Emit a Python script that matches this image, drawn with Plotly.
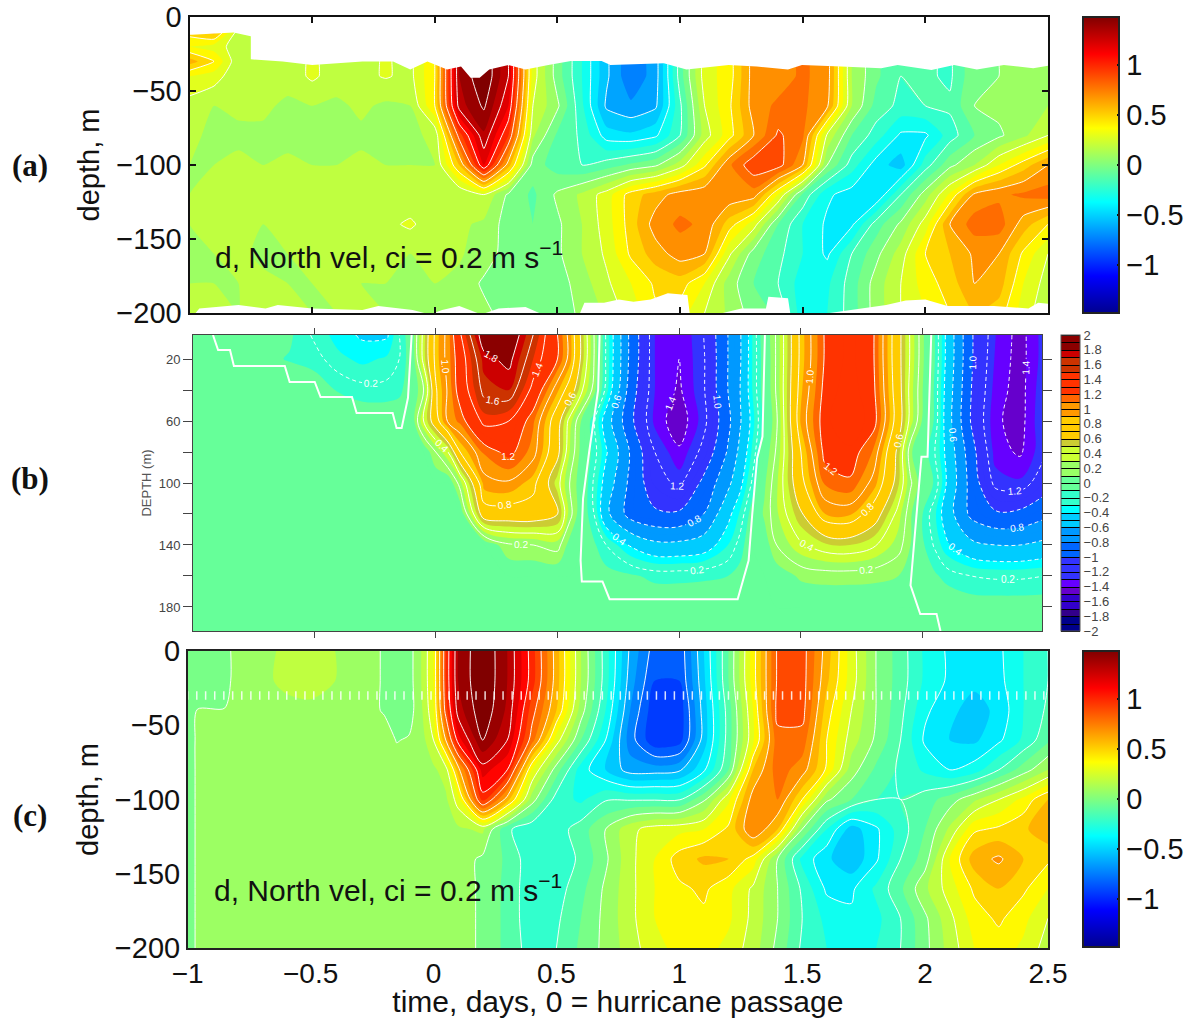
import plotly.graph_objects as go

W, H = 1189, 1018

# ---------- panel (a): observed north velocity ----------
a_time = [-1.0,-0.9,-0.8,-0.7,-0.6,-0.5,-0.4,-0.3,-0.2,-0.1,0.0,0.1,0.2,0.3,0.4,0.5,0.6,0.7,0.8,0.9,1.0,1.1,1.2,1.3,1.4,1.5,1.6,1.7,1.8,1.9,2.0,2.1,2.2,2.3,2.4,2.5]
a_depth = [-10,-20,-30,-40,-60,-80,-100,-120,-140,-160,-180,-200]
a_40 = [.3,.25,.12,.16,.14,.22,.15,.17,.21,.17,.4,1.3,1.5,1.2,.25,-.05,-.3,-.58,-.78,-.65,-.15,.25,.35,.65,.65,.72,.65,.1,-.08,-.2,-.18,-.22,-.02,0,.05,.1]
a_10 = [.45,.55,.15] + a_40[3:]
a_20 = [.3,.25,.15] + a_40[3:]
a_30 = [.55,.4,.12] + a_40[3:]
a_60 = [.15,.1,.12,.12,.08,.1,.08,.12,.08,.1,.4,1.25,1.42,1.1,.2,.02,-.28,-.62,-.68,-.62,-.22,.2,.38,.65,.72,.72,.62,.1,-.14,-.23,-.2,-.18,0,.03,0,.1]
a_80 = [.12,.08,.08,.08,.07,.08,.1,.08,.07,.08,.12,.85,1.28,.9,.12,-.12,-.22,-.45,-.48,-.42,-.2,.15,.36,.6,.82,.72,.18,-.1,-.25,-.42,-.42,-.25,-.1,-.02,.08,.2]
a_100 = [.1,.1,.12,.1,.12,.1,.1,.12,.1,.1,.1,.5,1.1,.55,-.05,-.15,-.2,-.15,-.08,-.02,.15,.38,.68,.88,.85,.6,0,-.25,-.45,-.55,-.25,-.03,.1,.3,.45,.6]
a_120 = [.1,.12,.13,.12,.15,.13,.15,.13,.12,.12,.12,.1,.2,-.02,-.12,.02,.12,.25,.45,.55,.65,.68,.68,.65,.3,-.12,-.38,-.45,-.5,-.2,.05,.32,.62,.68,.72,.75]
a_140 = [.1,.12,.14,.1,.12,.13,.13,.14,.17,.22,.13,.12,.08,-.05,-.1,-.02,.1,.25,.45,.65,.72,.68,.45,.25,-.1,-.3,-.42,-.42,-.15,.02,.25,.6,.75,.75,.55,.4]
a_160 = [.1,.1,.12,.08,.1,.12,.1,.12,.12,.1,.12,.11,.06,-.05,-.1,-.02,.1,.22,.42,.55,.65,.6,.22,-.05,-.17,-.3,-.42,-.2,-.03,.15,.4,.5,.62,.6,.38,.2]
a_180 = [.1,.1,.1,.12,.1,.1,.12,.1,.1,.08,.1,.08,-.02,-.05,-.1,-.05,.05,.18,.3,.42,.45,.3,.05,-.1,-.2,-.35,-.32,-.15,.05,.2,.35,.45,.6,.55,.3,.15]
a_200 = [.12,.12,.1,.12,.12,.1,.1,.12,.1,.08,.05,.05,.03,-.05,-.1,-.05,.02,.12,.25,.38,.35,.2,.08,-.05,-.12,-.35,-.3,-.15,.05,.2,.3,.4,.5,.45,.25,.12]
a_z = [a_10,a_20,a_30,a_40,a_60,a_80,a_100,a_120,a_140,a_160,a_180,a_200]
# upper and lower limits of the data coverage (white beyond)
a_top_time = [-.99,-.82,-.75,-.75,-.62,-.50,-.295,-.17,-.10,-.03,.05,.107,.146,.183,.222,.30,.37,.463,.555,.68,.716,.934,1.026,1.198,1.313,1.44,1.497,1.657,1.82,1.887,2.025,2.117,2.21,2.32,2.44,2.52]
a_top_depth = [-12,-10.4,-13,-28.6,-30,-32.4,-30,-30,-35.4,-30,-35.4,-33.5,-41,-41,-35.4,-32.4,-35.4,-32.4,-29.7,-29.7,-32.4,-31.3,-35.4,-32.4,-33.5,-35.4,-32.4,-33.5,-34.6,-32.4,-35.8,-32.4,-35.4,-32.4,-34.6,-32.4]
a_bot_time = [-.98,-.96,-.8,-.69,-.64,-.5,-.295,-.23,-.09,-.02,.03,.1,.19,.26,.37,.44,.59,.61,.69,.75,.81,.88,.95,1.03,1.04,1.15,1.25,1.35,1.36,1.44,1.45,1.61,1.84,1.92,2.0,2.09,2.28,2.42,2.46,2.52]
a_bot_depth = [-201,-196.9,-194.6,-196.9,-194.6,-196.9,-198,-195.3,-198,-201,-198,-195.3,-201,-196.9,-196,-201,-201,-193.1,-193.1,-190.8,-192.4,-190.8,-186.7,-187.8,-201,-201,-196.9,-196.9,-189,-190,-201,-200,-194.6,-191.5,-190.8,-195.3,-195.3,-196.9,-193.1,-194]

# ---------- panel (b): model north velocity ----------
b_time = [-1,-.8,-.6,-.5,-.4,-.3,-.2,-.15,-.1,-.05,
          0,.05,.1,.2,.3,.4,.5,.55,.6,.65,.7,.8,
          .9,1,1.1,1.2,1.25,1.3,1.35,1.4,
          1.5,1.6,1.7,1.8,1.9,1.95,2,2.05,2.1,2.2,2.3,2.4,2.5]
b_depth = [4.5,20,40,60,80,100,120,140,160,180,195.5]
b_z = [
 [0,0,-.08,-.22,-.35,-.42,-.42,-.2,0,.45, .85,1.05,1.38,1.92,1.95,1.6,1.2,.95,.55,.2,-.22,-.85, -1.3,-1.4,-1.2,-.8,-.62,-.3,0,.22, .85,1.22,1.33,1.2,.66,.38,.12,-.1,-.45,-.98,-1.3,-1.45,-1.25],
 [0,-.03,-.11,-.15,-.27,-.33,-.28,-.2,-.02,.45, .85,1.05,1.3,1.75,1.85,1.5,1.2,.95,.55,.2,-.22,-.85, -1.3,-1.4,-1.22,-.8,-.62,-.3,-.02,.22, .85,1.22,1.33,1.2,.66,.38,.12,-.1,-.45,-.98,-1.32,-1.45,-1.25],
 [0,0,0,-.02,-.11,-.16,-.16,-.13,-.02,.2, .78,1.02,1.28,1.65,1.7,1.35,.92,.72,.42,.15,-.25,-.9, -1.3,-1.42,-1.22,-.8,-.6,-.3,-.02,.22, .88,1.25,1.35,1.22,.68,.35,.1,-.12,-.48,-1.0,-1.35,-1.45,-1.22],
 [0,0,0,0,0,0,0,-.01,0,.4, .72,1.02,1.13,1.45,1.4,1.12,.68,.35,.08,-.18,-.5,-.95, -1.33,-1.48,-1.25,-.85,-.62,-.35,-.05,.18, .92,1.28,1.38,1.25,.7,.35,.08,-.12,-.5,-1.02,-1.38,-1.45,-1.2],
 [0,0,0,0,0,0,0,0,0,0, .2,.4,.8,1.12,1.25,1.05,.65,.3,.05,-.15,-.38,-.82, -1.2,-1.38,-1.15,-.78,-.55,-.28,.02,.22, .8,1.25,1.28,1.08,.55,.12,-.02,-.2,-.45,-.92,-1.35,-1.42,-1.22],
 [0,0,0,0,0,0,0,0,0,0, 0,0,.25,.95,.98,.85,.45,.2,.02,-.22,-.48,-.85, -1.12,-1.24,-.95,-.65,-.45,-.18,.08,.28, .75,1.12,1.18,.95,.52,.22,.02,-.12,-.42,-.88,-1.25,-1.28,-1.1],
 [0,0,0,0,0,0,0,0,0,0, 0,0,0,.72,.72,.72,.62,.25,0,-.2,-.55,-.88, -.97,-.97,-.8,-.45,-.28,-.03,.12,.28, .58,.9,.92,.7,.35,.12,-.1,-.28,-.5,-.85,-.97,-.95,-.85],
 [0,0,0,0,0,0,0,0,0,0, 0,0,0,0,.18,.2,.25,.05,0,-.08,-.2,-.42, -.55,-.55,-.5,-.3,-.15,0,.03,.2, .38,.48,.5,.42,.25,.1,-.08,-.22,-.38,-.55,-.6,-.6,-.55],
 [0,0,0,0,0,0,0,0,0,0, 0,0,0,0,0,0,0,0,0,0,-.05,-.08, -.13,-.13,-.12,-.1,-.06,0,0,.03, .12,.14,.14,.13,.1,.02,-.02,-.08,-.14,-.2,-.22,-.22,-.2],
 [0,0,0,0,0,0,0,0,0,0, 0,0,0,0,0,0,0,0,0,0,0,0, 0,0,0,0,0,0,0,0, 0,0,0,0,0,0,0,0,0,-.03,-.03,-.03,-.03],
 [0,0,0,0,0,0,0,0,0,0, 0,0,0,0,0,0,0,0,0,0,0,0, 0,0,0,0,0,0,0,0, 0,0,0,0,0,0,0,0,0,0,0,0,0],
]
b_zero1_time = [-.915,-.894,-.845,-.829,-.62,-.60,-.497,-.473,-.344,-.325,-.177,-.161,-.14,-.114,-.099]
b_zero1_depth = [4.5,14.2,14.2,24.5,24.5,34.8,34.8,44.5,44.5,54.8,54.8,64.5,64.5,45,4.5]
b_zero2_time = [.673,.667,.63,.605,.595,.60,.685,.714,1.24,1.285,1.30,1.32,1.342,1.352]
b_zero2_depth = [4.5,40,80,110,150,163.6,163.6,175,175,150,120,84,70,4.5]
b_zero3_time = [2.035,2.02,1.995,1.97,1.95,1.99,2.057,2.073]
b_zero3_depth = [4.5,83,83,131,166,184.5,184.5,195.5]
b_levels_colors = ["#00008b"]*2 + ["#33008b"] + ["#3300cc"]*2 + ["#6600cc"] + ["#6600ff"] + ["#3333ff"]*3 + \
                  ["#0066ff"]*2 + ["#0099ff"]*2 + ["#00ccff"]*2 + ["#00ffff"] + ["#33ffcc"]*2 + ["#66ff99"]*2 + \
                  ["#99ff66"]*2 + ["#ccff33"]*2 + ["#cccc33"] + ["#ffcc00"]*3 + ["#ff9900"]*2 + ["#ff6600"] + \
                  ["#ff3300"]*3 + ["#cc3300"]*2 + ["#cc0000"] + ["#8b0000"]*2

# ---------- panel (c): model north velocity, jet colours ----------
c_time = [-1,-.98,-.96,-.85,-.8,-.7,-.6,-.5,-.4,-.3,-.2,-.15,-.1,-.05,0,.05,.1,
          .2,.3,.4,.5,.6,.7,.8,.9,1,1.1,1.2,1.3,1.4,1.5,1.6,1.7,1.8,1.9,2,2.1,2.2,2.3,2.4,2.5]
c_depth = [0,-20,-40,-60,-80,-100,-120,-140,-160,-180,-200]
c_z = [
 [-.05,-.05,-.05,-.05,.05,.07,.12,.15,.1,.05,-.01,-.07,-.05,.1,.3,.9,1.3, 1.5,1.3,.95,.55,.1,-.25,-.62,-.85,-.88,-.5,-.1,.35,.82,.85,.55,.25,0,-.15,-.32,-.42,-.45,-.42,-.3,-.2],
 [-.05,-.05,-.05,-.05,.05,.07,.13,.15,.1,.05,-.01,-.07,-.05,.1,.3,.9,1.3, 1.5,1.3,.95,.55,.1,-.25,-.65,-.9,-.9,-.52,-.1,.35,.82,.85,.52,.25,0,-.15,-.32,-.42,-.47,-.43,-.3,-.2],
 [-.05,-.05,.004,.004,.05,.05,.06,.07,.06,.05,-.01,-.07,-.05,.08,.28,.85,1.25, 1.48,1.28,.85,.5,.05,-.3,-.7,-.97,-.97,-.55,-.15,.3,.84,.84,.45,.2,0,-.17,-.38,-.47,-.55,-.47,-.3,-.18],
 [-.05,-.05,.05,.05,.05,.05,.05,.05,.05,.05,.05,-.005,.01,.05,.2,.6,1.05, 1.4,1.2,.75,.25,-.1,-.4,-.75,-.98,-.95,-.55,-.15,.28,.76,.76,.4,.15,-.02,-.2,-.42,-.5,-.52,-.42,-.28,-.12],
 [-.05,-.05,.05,.05,.05,.05,.05,.05,.05,.05,.05,.05,.05,.05,.08,.15,.55, 1.15,1.0,.3,-.05,-.35,-.5,-.65,-.65,-.62,-.42,-.1,.5,.75,.65,.38,.05,-.12,-.22,-.32,-.4,-.35,-.2,-.05,.1],
 [-.05,-.05,.05,.05,.05,.05,.05,.05,.05,.05,.05,.05,.05,.05,.05,.08,.25, .95,.55,.05,-.25,-.32,-.21,-.21,-.21,-.21,-.02,.28,.65,.7,.4,.02,-.1,-.2,-.2,-.15,-.05,.08,.2,.33,.5],
 [-.05,-.05,.05,.05,.05,.05,.05,.05,.05,.05,.05,.05,.05,.05,.05,.05,.08, .12,-.18,-.28,-.25,-.15,0,.17,.25,.27,.3,.42,.7,.5,0,-.3,-.55,-.42,-.25,-.1,.12,.38,.42,.48,.58],
 [-.05,-.05,.05,.05,.05,.05,.05,.05,.05,.05,.05,.05,.05,.05,.05,.05,.05, -.02,-.12,-.27,-.27,-.18,-.02,.17,.3,.45,.52,.5,.36,0,-.33,-.48,-.58,-.42,-.2,-.05,.3,.55,.62,.5,.42],
 [-.05,-.05,.05,.05,.05,.05,.05,.05,.05,.05,.05,.05,.05,.05,.05,.05,.05, -.02,-.13,-.27,-.25,-.13,.02,.17,.3,.38,.42,.33,.18,0,-.22,-.42,-.42,-.28,-.12,.08,.25,.42,.5,.42,.3],
 [-.05,-.05,.05,.05,.05,.05,.05,.05,.05,.05,.05,.05,.05,.05,.05,.05,.05, -.02,-.13,-.27,-.22,-.1,.03,.17,.3,.37,.38,.32,.17,0,-.2,-.33,-.38,-.33,-.2,-.02,.17,.35,.42,.33,.2],
 [-.05,-.05,.05,.05,.05,.05,.05,.05,.05,.05,.05,.05,.05,.05,.05,.05,.05, -.02,-.13,-.25,-.2,-.08,.03,.15,.27,.33,.34,.27,.15,-.03,-.22,-.3,-.33,-.3,-.2,-.03,.14,.3,.35,.28,.15],
]
c_sample_time = [-1.000,-0.963,-0.927,-0.890,-0.853,-0.817,-0.780,-0.743,-0.707,-0.670,-0.633,-0.597,-0.560,-0.523,-0.487,-0.450,-0.413,-0.377,-0.340,-0.303,-0.267,-0.230,-0.193,-0.157,-0.120,-0.083,-0.047,-0.010,0.027,0.063,0.100,0.137,0.173,0.210,0.247,0.283,0.320,0.357,0.393,0.430,0.467,0.503,0.540,0.577,0.613,0.650,0.687,0.723,0.760,0.797,0.833,0.870,0.907,0.943,0.980,1.017,1.053,1.090,1.127,1.163,1.200,1.237,1.273,1.310,1.347,1.383,1.420,1.457,1.493,1.530,1.567,1.603,1.640,1.677,1.713,1.750,1.787,1.823,1.860,1.897,1.933,1.970,2.007,2.043,2.080,2.117,2.153,2.190,2.227,2.263,2.300,2.337,2.373,2.410,2.447,2.483]
c_sample_depth = -30

depth_ticks = [0,-50,-100,-150,-200]
b_depth_ticks = [20,60,100,140,180]
b_depth_minor = [40,80,120,160]
note = "d, North vel, ci = 0.2 m s<sup>−1</sup>"

# ---------- colours ----------
jet = [[0,"#00008f"],[.125,"#0000ff"],[.375,"#00ffff"],[.625,"#ffff00"],[.875,"#ff0000"],[1,"#800000"]]
b_scale = []
for i, col in enumerate(b_levels_colors):
    b_scale += [[i/40, col], [(i+1)/40, col]]

FONT = "Liberation Sans"
def dx(a, b): return [a/W, b/W]
def dy(top, bot): return [1-bot/H, 1-top/H]

fig = go.Figure()

def field(t, d, z, xa, ya, smooth):
    fig.add_trace(go.Contour(x=t, y=d, z=z, xaxis=xa, yaxis=ya, colorscale=jet,
        zmin=-1.48, zmax=1.48, showscale=False, line=dict(width=0, smoothing=smooth),
        contours=dict(coloring="fill", start=-1.5, end=1.5, size=.1, showlines=False), hoverinfo="skip"))
    fig.add_trace(go.Contour(x=t, y=d, z=z, xaxis=xa, yaxis=ya, showscale=False,
        line=dict(width=1, color="rgba(255,255,255,.95)", smoothing=smooth),
        contours=dict(coloring="none", start=-1.4, end=1.4, size=.2), hoverinfo="skip"))

def jetbar(ya, xa, top):
    fig.add_trace(go.Scatter(x=[-3], y=[0], xaxis=xa, yaxis=ya, mode="markers", showlegend=False,
        marker=dict(color=[0], colorscale=jet, cmin=-1.48, cmax=1.48, showscale=True, size=1,
            colorbar=dict(x=1083/W, xanchor="left", xpad=0, ypad=0, y=1-(top+148)/H, yanchor="middle",
                len=296, lenmode="pixels", thickness=36, thicknessmode="pixels",
                outlinecolor="#222", outlinewidth=2, ticks="inside", ticklen=3, tickcolor="#111", tickwidth=2,
                tickvals=[-1,-.5,0,.5,1], tickfont=dict(family=FONT, size=29, color="#111")))))

# (a)
field(a_time, a_depth, a_z, "x", "y", .5)
fig.add_trace(go.Scatter(x=a_top_time+[2.6,-1.1,-1.1], y=a_top_depth+[5,5,-12], xaxis="x", yaxis="y", mode="none",
    fill="toself", fillcolor="white", showlegend=False, hoverinfo="skip"))
fig.add_trace(go.Scatter(x=a_bot_time+[2.6,-1.1,-1.1], y=a_bot_depth+[-205,-205,-201], xaxis="x", yaxis="y", mode="none",
    fill="toself", fillcolor="white", showlegend=False, hoverinfo="skip"))
jetbar("y", "x", 17)

# (b)
fig.add_trace(go.Contour(x=b_time, y=b_depth, z=b_z, xaxis="x2", yaxis="y2", colorscale=b_scale, zmin=-2, zmax=2,
    showscale=False, line=dict(width=0), contours=dict(coloring="fill", start=-2, end=2, size=.1, showlines=False), hoverinfo="skip"))
fig.add_trace(go.Contour(x=b_time, y=b_depth, z=b_z, xaxis="x2", yaxis="y2", showscale=False,
    line=dict(width=1, color="rgba(255,255,255,.95)"),
    contours=dict(coloring="none", start=.2, end=1.8, size=.2, showlabels=True, labelformat=".1f",
                  labelfont=dict(family=FONT, size=10, color="white")), hoverinfo="skip"))
b_neg = [[-v for v in row] for row in b_z]
fig.add_trace(go.Contour(x=b_time, y=b_depth, z=b_neg, xaxis="x2", yaxis="y2", showscale=False,
    line=dict(width=1, color="rgba(255,255,255,.95)", dash="4px,3px"),
    contours=dict(coloring="none", start=.2, end=1.8, size=.2, showlabels=True, labelformat=".1f",
                  labelfont=dict(family=FONT, size=10, color="white")), hoverinfo="skip"))
for t, d in [(b_zero1_time,b_zero1_depth),(b_zero2_time,b_zero2_depth),(b_zero3_time,b_zero3_depth)]:
    fig.add_trace(go.Scatter(x=t, y=d, xaxis="x2", yaxis="y2", mode="lines", line=dict(color="white", width=2),
        showlegend=False, hoverinfo="skip"))
# colour key of (b): off-range field, only its colour bar is on the page
fig.add_trace(go.Contour(x=[-6,-5], y=[10,20], z=[[-2,2],[-2,2]],
    xaxis="x2", yaxis="y2", colorscale=b_scale, zmin=-2, zmax=2, line=dict(width=1, color="black"),
    contours=dict(coloring="fill", start=-2, end=2, size=.1),
    colorbar=dict(x=1061/W, xanchor="left", xpad=0, ypad=0, y=1-483/H, yanchor="middle", len=296, lenmode="pixels",
        thickness=19, thicknessmode="pixels", outlinecolor="#555", outlinewidth=1, ticks="", tick0=-2, dtick=.2,
        tickfont=dict(family=FONT, size=13, color="#444")), hoverinfo="skip"))

# (c)
field(c_time, c_depth, c_z, "x3", "y3", .8)
fig.add_trace(go.Scatter(x=c_sample_time, y=[c_sample_depth]*len(c_sample_time), xaxis="x3", yaxis="y3", mode="markers",
    marker=dict(symbol="line-ns", size=6, line=dict(width=1.5, color="rgba(255,255,255,.85)")),
    showlegend=False, hoverinfo="skip"))
jetbar("y3", "x3", 651)

big = dict(family=FONT, size=29, color="#111")
xtick = dict(family=FONT, size=28, color="#111")
title = dict(family=FONT, size=30, color="#111")
serif = dict(family="Liberation Serif", size=31, color="#111", weight="bold")
fig.update_layout(
    width=W, height=H, autosize=False, paper_bgcolor="white", plot_bgcolor="white", showlegend=False,
    margin=dict(l=0, r=0, t=0, b=0, autoexpand=False),
    xaxis=dict(domain=dx(189.5,1048), range=[-1,2.5], anchor="y", tickvals=[-.5,0,.5,1,1.5,2], showticklabels=False,
        ticks="inside", ticklen=6, tickwidth=2, tickcolor="#111", showline=True, linecolor="#111", linewidth=2, mirror="ticks", showgrid=False, zeroline=False),
    yaxis=dict(domain=dy(17,313), range=[-200,0], anchor="x", tickvals=depth_ticks, tickfont=big, ticks="inside", ticklen=6, tickwidth=2,
        tickcolor="#111", showline=True, linecolor="#111", linewidth=2, mirror="ticks", showgrid=False, zeroline=False,
        title=dict(text="depth, m", font=big, standoff=8)),
    xaxis2=dict(domain=dx(193,1042), range=[-.997,2.49], anchor="y2", tickvals=[-.5,0,.5,1,1.5,2], showticklabels=False,
        ticks="outside", ticklen=6, tickwidth=1, tickcolor="#444", showline=True, linecolor="#444", linewidth=1, mirror="ticks", showgrid=False, zeroline=False),
    yaxis2=dict(domain=dy(335,631), range=[195.5,4.5], anchor="x2", tickvals=b_depth_ticks,
        minor=dict(tickvals=b_depth_minor, ticks="outside", ticklen=9, tickwidth=1, tickcolor="#444"),
        tickfont=dict(family=FONT, size=13, color="#444"), ticks="outside", ticklen=9, tickwidth=1, tickcolor="#444",
        showline=True, linecolor="#444", linewidth=1, mirror="ticks", showgrid=False, zeroline=False,
        title=dict(text="DEPTH (m)", font=dict(family=FONT, size=13, color="#555"), standoff=4)),
    xaxis3=dict(domain=dx(187.7,1048), range=[-1,2.5], anchor="y3", tickvals=[-1,-.5,0,.5,1,1.5,2,2.5], tickfont=xtick, ticks="",
        showline=True, linecolor="#222", linewidth=1.5, mirror=True, showgrid=False, zeroline=False,
        title=dict(text="time, days, 0 = hurricane passage", font=title, standoff=2)),
    yaxis3=dict(domain=dy(651,948), range=[-200,0], anchor="x3", tickvals=depth_ticks, tickfont=big, ticks="",
        showline=True, linecolor="#222", linewidth=1.5, mirror=True, showgrid=False, zeroline=False,
        title=dict(text="depth, m", font=big, standoff=8)),
    annotations=[
        dict(text=note, x=213/W, y=1-255/H, xref="paper", yref="paper", xanchor="left", yanchor="middle", showarrow=False, font=title),
        dict(text=note, x=212/W, y=1-888/H, xref="paper", yref="paper", xanchor="left", yanchor="middle", showarrow=False, font=title),
        dict(text="(a)", x=30/W, y=1-165/H, xref="paper", yref="paper", xanchor="center", yanchor="middle", showarrow=False, font=serif),
        dict(text="(b)", x=30/W, y=1-478/H, xref="paper", yref="paper", xanchor="center", yanchor="middle", showarrow=False, font=serif),
        dict(text="(c)", x=30/W, y=1-815/H, xref="paper", yref="paper", xanchor="center", yanchor="middle", showarrow=False, font=serif),
    ],
)
fig.write_html("out.html", post_script="document.body.style.margin='0';", config={"displayModeBar": False})
